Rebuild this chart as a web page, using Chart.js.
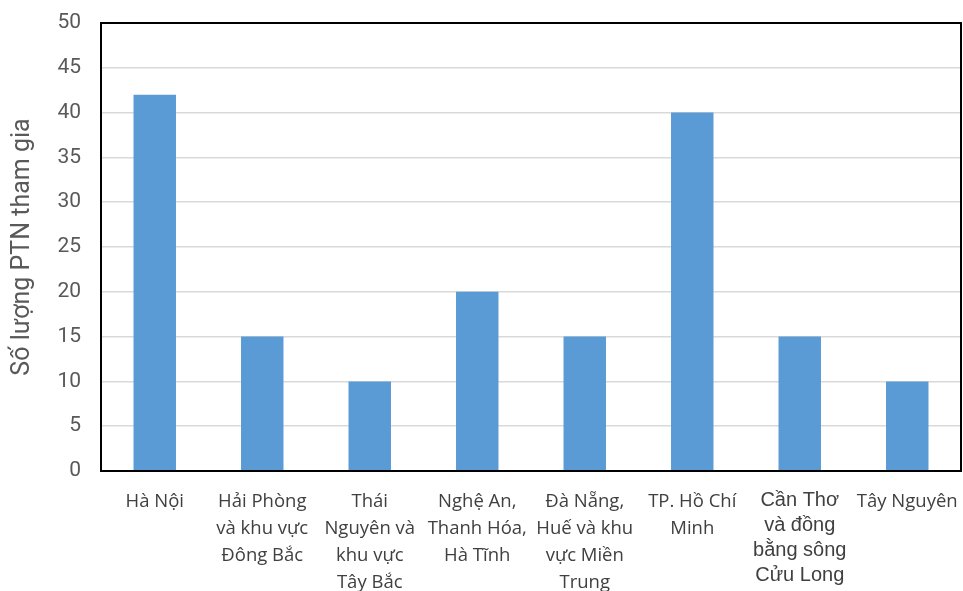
<!DOCTYPE html>
<html>
<head>
<meta charset="utf-8">
<script src="https://cdn.jsdelivr.net/npm/chart.js@4.4.0/dist/chart.umd.min.js"></script>
<style>
html,body{margin:0;padding:0;background:#fff;}
#wrap{width:963px;height:591px;position:relative;}
</style>
</head>
<body>
<div id="wrap"><canvas id="c"></canvas></div>
<script>
const categories = [
  ["Hà Nội"],
  ["Hải Phòng", "và khu vực", "Đông Bắc"],
  ["Thái", "Nguyên và", "khu vực", "Tây Bắc"],
  ["Nghệ An,", "Thanh Hóa,", "Hà Tĩnh"],
  ["Đà Nẵng,", "Huế và khu", "vực Miền", "Trung"],
  ["TP. Hồ Chí", "Minh"],
  ["Cần Thơ", "và đồng", "bằng sông", "Cửu Long"],
  ["Tây Nguyên"]
];
const values = [42, 15, 10, 20, 15, 40, 15, 10];
const yTicks = [0, 5, 10, 15, 20, 25, 30, 35, 40, 45, 50];
const yTitle = "Số lượng PTN tham gia";

const frame = {
  id: 'frame',
  afterDatasetsDraw(chart) {
    const a = chart.chartArea, ctx = chart.ctx;
    ctx.save();
    ctx.strokeStyle = '#000';
    ctx.lineWidth = 2;
    ctx.strokeRect(a.left, a.top, a.right - a.left, a.bottom - a.top);
    ctx.restore();
  }
};

new Chart(document.getElementById('c'), {
  type: 'bar',
  data: {
    labels: categories,
    datasets: [{
      data: values,
      backgroundColor: '#5B9BD5',
      borderWidth: 0,
      categoryPercentage: 1,
      barPercentage: 0.395
    }]
  },
  options: {
    responsive: true,
    maintainAspectRatio: false,
    animation: false,
    layout: { padding: { top: 23, right: 2, left: 0, bottom: 0 } },
    plugins: { legend: { display: false }, tooltip: { enabled: false } },
    scales: {
      x: {
        grid: { display: false, drawTicks: false },
        border: { display: true, color: '#000', width: 2 },
        ticks: {
          maxRotation: 0, minRotation: 0, autoSkip: false, padding: 17,
          color: '#404040',
          font: (c) => c.index === 6
            ? { family: '"Liberation Sans", Arial, sans-serif', size: 20, lineHeight: 1.25 }
            : { family: '"Open Sans", sans-serif', size: 18.5, lineHeight: 1.46 }
        },
        afterFit(s) { s.height = 120; s.paddingLeft = 0; s.paddingRight = 0; }
      },
      y: {
        min: 0, max: 50,
        afterBuildTicks(s) { s.ticks = yTicks.map(v => ({ value: v })); },
        grid: { color: '#d9d9d9', lineWidth: 1.5, drawTicks: false },
        border: { display: true, color: '#000', width: 2 },
        ticks: {
          color: '#595959', padding: 20,
          font: { family: 'Roboto, sans-serif', size: 21 }
        },
        title: {
          display: true, text: yTitle, color: '#595959',
          font: { family: 'Roboto, sans-serif', size: 25 },
          padding: { top: 8, bottom: 0 }
        },
        afterFit(s) { s.width = 101; s.paddingTop = 0; s.paddingBottom = 0; }
      }
    }
  },
  plugins: [frame]
});
</script>
</body>
</html>
